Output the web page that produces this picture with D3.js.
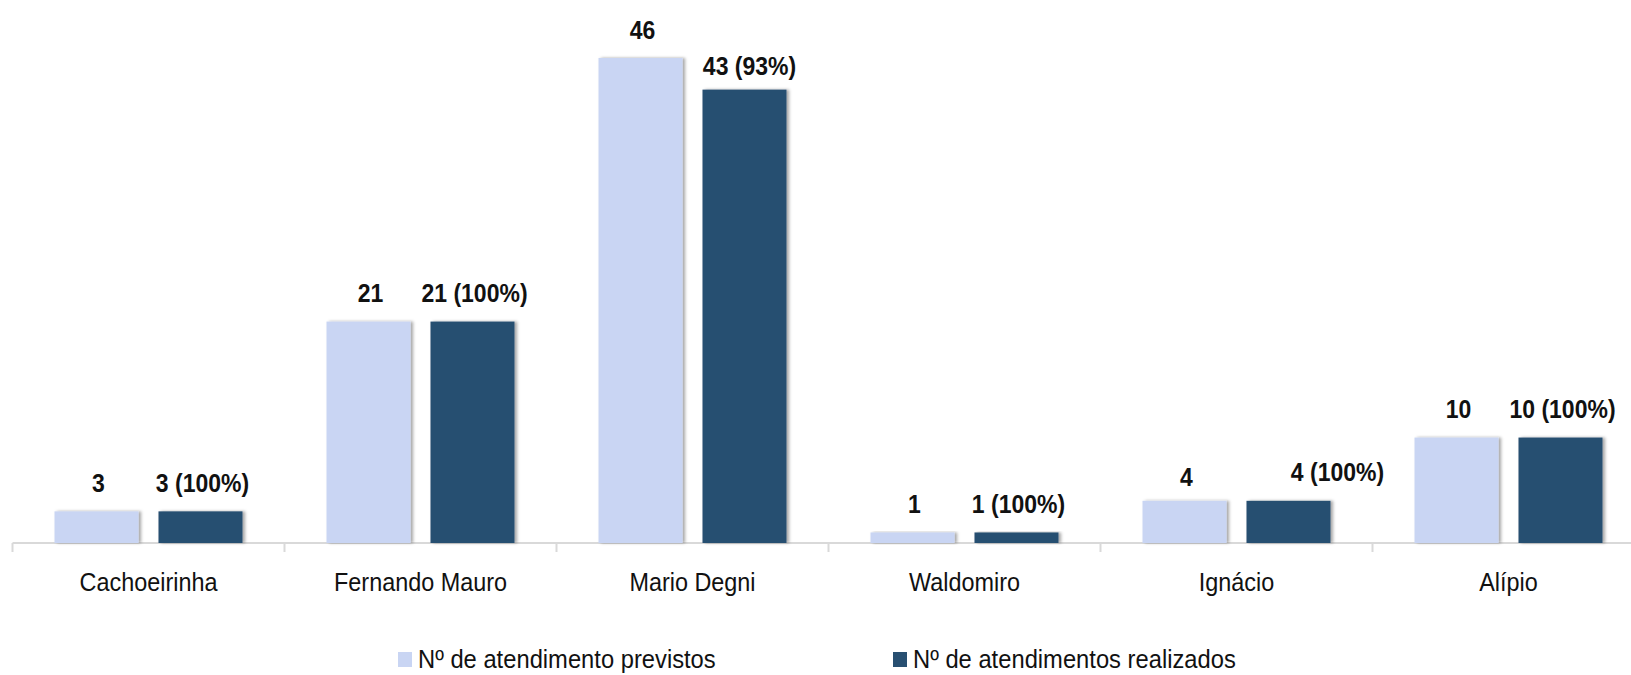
<!DOCTYPE html>
<html>
<head>
<meta charset="utf-8">
<script src="https://cdn.jsdelivr.net/npm/d3@7"></script>
<style>
  body { margin: 0; background: #fff; }
  svg { display: block; }
  .cat { font-family: "Liberation Sans", Arial, sans-serif; font-size: 26px; fill: #111; }
  .val { font-family: "Liberation Sans", Arial, sans-serif; font-size: 25px; font-weight: bold; fill: #111; }
  .leg { font-family: "Liberation Sans", Arial, sans-serif; font-size: 25px; fill: #111; }
</style>
</head>
<body>
<div id="chart"></div>
<script>
let width = 1631,
    height = 675;

// data
const categories = ["Cachoeirinha", "Fernando Mauro", "Mario Degni", "Waldomiro", "Ignácio", "Alípio"];
const previstos = [3, 21, 46, 1, 4, 10];
const realizados = [3, 21, 43, 1, 4, 10];
const seriesNames = ["Nº de atendimento previstos", "Nº de atendimentos realizados"];
const colors = ["#c9d5f3", "#284f71"];

// small label nudges (dx, dy) by "series-index"
const nudge = { "1-2": [3, 5], "1-4": [47, 0], "0-4": [0, 5] };

const svg = d3.select("#chart")
  .append("svg")
  .attr("width", width)
  .attr("height", height);

const defs = svg.append("defs");
const f = defs.append("filter").attr("id", "shadow")
  .attr("x", "-10%").attr("y", "-10%").attr("width", "130%").attr("height", "120%");
f.append("feDropShadow")
  .attr("dx", 2.5).attr("dy", 0).attr("stdDeviation", 1.5)
  .attr("flood-color", "#000").attr("flood-opacity", 0.35);

const x0 = d3.scaleBand()
  .domain(categories)
  .range([12.5, 12.5 + 272 * categories.length])
  .padding(0);

const x1 = d3.scaleBand()
  .domain([0, 1])
  .range([42, 230])
  .paddingInner(0.192)
  .paddingOuter(0);

const y = d3.scaleLinear()
  .domain([0, 46])
  .range([543, 58]);

// axis line + ticks at band edges
svg.append("line")
  .attr("x1", x0.range()[0]).attr("x2", width)
  .attr("y1", y(0)).attr("y2", y(0))
  .attr("stroke", "#d9d9d9").attr("stroke-width", 2);

svg.selectAll(".tick")
  .data(categories)
  .enter().append("line")
  .attr("class", "tick")
  .attr("x1", function (d) { return x0(d); })
  .attr("x2", function (d) { return x0(d); })
  .attr("y1", y(0)).attr("y2", y(0) + 9)
  .attr("stroke", "#d9d9d9").attr("stroke-width", 2);

let rows = categories.map(function (c, i) {
  return { cat: c, i: i, vals: [previstos[i], realizados[i]] };
});

let group = svg.selectAll(".grp")
  .data(rows)
  .enter().append("g")
  .attr("class", "grp")
  .attr("transform", function (d) { return "translate(" + x0(d.cat) + ",0)"; });

group.selectAll("rect")
  .data(function (d) { return d.vals.map(function (v, s) { return { v: v, s: s }; }); })
  .enter().append("rect")
  .attr("x", function (d) { return x1(d.s); })
  .attr("width", x1.bandwidth())
  .attr("y", function (d) { return y(d.v); })
  .attr("height", function (d) { return y(0) - y(d.v); })
  .attr("fill", function (d) { return colors[d.s]; })
  .attr("filter", "url(#shadow)");

group.selectAll(".val")
  .data(function (d) {
    return d.vals.map(function (v, s) {
      let pct = Math.round(d.vals[1] / d.vals[0] * 100);
      return { v: v, s: s, i: d.i, text: s === 0 ? String(v) : v + " (" + pct + "%)" };
    });
  })
  .enter().append("text")
  .attr("class", "val")
  .attr("text-anchor", "middle")
  .attr("transform", function (d) {
    let n = nudge[d.s + "-" + d.i] || [0, 0];
    let tx = x1(d.s) + x1.bandwidth() / 2 + 2 + n[0];
    let ty = y(d.v) - 19.5 + n[1];
    return "translate(" + tx + "," + ty + ") scale(0.92,1)";
  })
  .text(function (d) { return d.text; });

// category labels
svg.selectAll(".cat")
  .data(categories)
  .enter().append("text")
  .attr("class", "cat")
  .attr("text-anchor", "middle")
  .attr("transform", function (d) {
    return "translate(" + (x0(d) + x0.bandwidth() / 2) + ",591) scale(0.9,1)";
  })
  .text(function (d) { return d; });

// legend
const legX = [398, 893];
let leg = svg.selectAll(".legitem")
  .data(seriesNames)
  .enter().append("g")
  .attr("class", "legitem")
  .attr("transform", function (d, i) { return "translate(" + legX[i] + ",652)"; });

leg.append("rect")
  .attr("width", 14).attr("height", 15)
  .attr("fill", function (d, i) { return colors[i]; });

leg.append("text")
  .attr("class", "leg")
  .attr("transform", "translate(20,16) scale(0.95,1)")
  .text(function (d) { return d; });
</script>
</body>
</html>
